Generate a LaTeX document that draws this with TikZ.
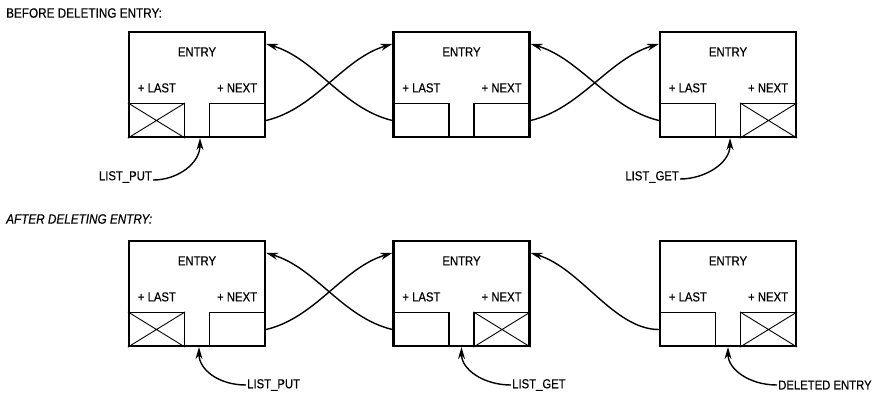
\documentclass[tikz,border=0pt]{standalone}
\usepackage{fontspec}
\setmainfont[FakeStretch=0.87,FakeBold=0.5]{Liberation Sans}
\usetikzlibrary{arrows.meta,calc}
\begin{document}
\begin{tikzpicture}[x=1pt,y=-1pt,
  entrybox/.style={draw,line width=2.2pt,minimum width=136pt,minimum height=105pt,inner sep=0pt},
  cellbox/.style={draw,line width=1.2pt,minimum width=56pt,minimum height=34pt,inner sep=0pt},
  lbl/.style={font=\fontsize{13}{15}\selectfont,inner sep=1pt},
  link/.style={line width=1.4pt,-{Stealth[length=12pt,width=7pt]}},
  crossline/.style={line width=0.9pt}]
\useasboundingbox (0,0) rectangle (883,397);

\node[lbl,anchor=west,font=\fontsize{13.5}{16}\selectfont] (t1) at (5,13) {BEFORE DELETING ENTRY:};
\node[lbl,anchor=west,font=\itshape\fontsize{13.5}{16}\selectfont] (t2) at (5,219) {AFTER DELETING ENTRY:};

\foreach \n/\cx/\cy in {e1/197/84.5,e2/461.5/84.5,e3/728/84.5,f1/197/293.5,f2/461.5/293.5,f3/728/293.5}{
  \node[entrybox] (\n) at (\cx,\cy) {};
  \node[cellbox,anchor=south west] (\n-l) at (\n.south west) {};
  \node[cellbox,anchor=south east] (\n-r) at (\n.south east) {};
  \node[lbl] (\n-t) at ([yshift=-21pt]\n.north) {ENTRY};
  \node[lbl] (\n-a) at ([xshift=29pt,yshift=-57pt]\n.north west) {+ LAST};
  \node[lbl] (\n-b) at ([xshift=-29pt,yshift=-57pt]\n.north east) {+ NEXT};
}

\foreach \c in {e1-l,e3-r,f1-l,f2-r,f3-r}
  \draw[crossline] (\c.north west) -- (\c.south east) (\c.south west) -- (\c.north east);

% top row links
\draw[link] (e1-r.east) .. controls +(50,-12) and +(-50,15) .. ([yshift=-13pt]e2.north west);
\draw[link] (e2-l.west) .. controls +(-50,-12) and +(50,15) .. ([yshift=-13pt]e1.north east);
\draw[link] (e2-r.east) .. controls +(50,-12) and +(-50,15) .. ([yshift=-13pt]e3.north west);
\draw[link] (e3-l.west) .. controls +(-50,-12) and +(50,15) .. ([yshift=-13pt]e2.north east);

% bottom row links
\draw[link] (f1-r.east) .. controls +(50,-12) and +(-50,15) .. ([yshift=-13pt]f2.north west);
\draw[link] (f2-l.west) .. controls +(-50,-12) and +(50,15) .. ([yshift=-13pt]f1.north east);
\draw[link] (f3-l.west) .. controls +(-45,0) and +(50,15) .. ([yshift=-13pt]f2.north east);

% pointer labels
\node[lbl,anchor=east] (put1) at (153,177) {LIST\_PUT};
\draw[link] ([yshift=-3pt]put1.east) .. controls +(25,0) and +(0,25) .. ([xshift=3pt]e1.south);
\node[lbl,anchor=east] (get1) at (680,177) {LIST\_GET};
\draw[link] ([yshift=-2pt]get1.east) .. controls +(25,0) and +(0,25) .. ([xshift=2pt]e3.south);

\node[lbl,anchor=west] (put2) at (246,385) {LIST\_PUT};
\draw[link] (put2.west) .. controls +(-28,0) and +(0,22) .. ([xshift=2pt]f1.south);
\node[lbl,anchor=west] (get2) at (511,385) {LIST\_GET};
\draw[link] (get2.west) .. controls +(-28,0) and +(0,22) .. (f2.south);
\node[lbl,anchor=west] (del) at (777,385) {DELETED ENTRY};
\draw[link] (del.west) .. controls +(-28,0) and +(0,22) .. (f3.south);
\end{tikzpicture}
\end{document}
